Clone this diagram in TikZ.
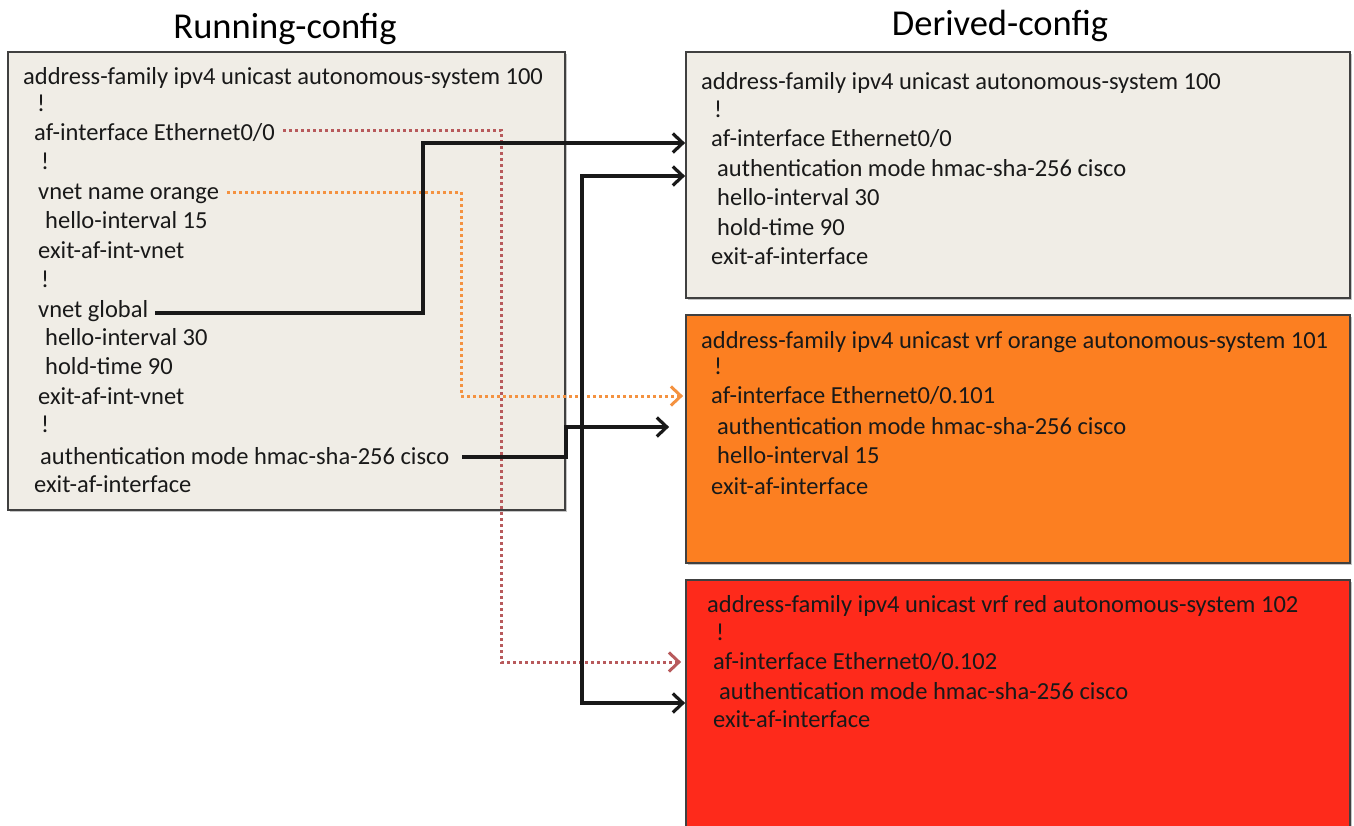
\documentclass[tikz,border=0pt]{standalone}
\usepackage{fontspec}
\setmainfont{Carlito}
\usepackage{tikz}
\usetikzlibrary{arrows.meta,shadows}

\definecolor{cfgbg}{HTML}{F0EDE6}
\definecolor{vrforange}{HTML}{FC7F21}
\definecolor{vrfred}{HTML}{FE2A1B}
\definecolor{redlink}{HTML}{B85A5C}
\definecolor{orangelink}{HTML}{F49240}

\begin{document}
\begin{tikzpicture}[x=1pt, y=-1pt, >={Straight Barb[length=10pt,width=19pt]},
  cfg box/.style={draw=black!75, line width=1.8pt,
    drop shadow={shadow xshift=1.5pt, shadow yshift=-1.5pt, fill=black!45}},
  cfg line/.style={anchor=west, inner sep=0pt, text height=15pt, text depth=0pt,
    text=black!90, font=\fontsize{24.5}{29}\selectfont},
  title/.style={font=\fontsize{36.5}{40}\selectfont},
  link/.style={->, line width=3.2pt, black!90},
  dot link/.style={->, line width=3pt, dash pattern=on 3pt off 3pt}]

\useasboundingbox (0,0) rectangle (1354,825);

\node[title] (runtitle) at (285,29) {Running-config};
\node[title] (dertitle) at (1000,26) {Derived-config};

% boxes
\node[cfg box, fill=cfgbg, minimum width=557pt, minimum height=458pt] (run) at (286.5,281) {};
\node[cfg box, fill=cfgbg, minimum width=664pt, minimum height=246pt] (dglobal) at (1018,175) {};
\node[cfg box, fill=vrforange, minimum width=664pt, minimum height=248pt] (dorange) at (1018,439) {};
\node[cfg box, fill=vrfred, minimum width=664pt, minimum height=255pt] (dred) at (1018,707.5) {};

% running-config
\node[cfg line] (r1) at (23,77) {address-family ipv4 unicast autonomous-system 100};
\node[cfg line] (r2) at (37,104) {!};
\node[cfg line] (raf) at (34,133) {af-interface Ethernet0/0};
\node[cfg line] (r4) at (41,162) {!};
\node[cfg line] (rorange) at (38,192) {vnet name orange};
\node[cfg line] (r6) at (45,221) {hello-interval 15};
\node[cfg line] (r7) at (38,251) {exit-af-int-vnet};
\node[cfg line] (r8) at (41,280) {!};
\node[cfg line] (rglobal) at (38,310) {vnet global};
\node[cfg line] (r10) at (45,338) {hello-interval 30};
\node[cfg line] (r11) at (45,367) {hold-time 90};
\node[cfg line] (r12) at (38,397) {exit-af-int-vnet};
\node[cfg line] (r13) at (41,425) {!};
\node[cfg line] (rauth) at (40,457) {authentication mode hmac-sha-256 cisco};
\node[cfg line] (r15) at (34,485) {exit-af-interface};

% derived-config, global
\node[cfg line] (g1) at (701,82) {address-family ipv4 unicast autonomous-system 100};
\node[cfg line] (g2) at (714,110) {!};
\node[cfg line] (gaf) at (711,139) {af-interface Ethernet0/0};
\node[cfg line] (gauth) at (717,169) {authentication mode hmac-sha-256 cisco};
\node[cfg line] (g5) at (717,198) {hello-interval 30};
\node[cfg line] (g6) at (717,228) {hold-time 90};
\node[cfg line] (g7) at (711,257) {exit-af-interface};

% derived-config, vrf orange
\node[cfg line] (o1) at (701,341) {address-family ipv4 unicast vrf orange autonomous-system 101};
\node[cfg line] (o2) at (714,367) {!};
\node[cfg line] (oaf) at (711,396) {af-interface Ethernet0/0.101};
\node[cfg line] (oauth) at (717,427) {authentication mode hmac-sha-256 cisco};
\node[cfg line] (o5) at (717,456) {hello-interval 15};
\node[cfg line] (o6) at (711,487) {exit-af-interface};

% derived-config, vrf red
\node[cfg line] (e1) at (707,605) {address-family ipv4 unicast vrf red autonomous-system 102};
\node[cfg line] (e2) at (716,633) {!};
\node[cfg line] (eaf) at (713,662) {af-interface Ethernet0/0.102};
\node[cfg line] (eauth) at (719,692) {authentication mode hmac-sha-256 cisco};
\node[cfg line] (e5) at (713,720) {exit-af-interface};

% vnet names
\draw[dot link, redlink] ([xshift=8pt,yshift=3pt]raf.east) -| (501,0 |- eaf.west) -- ([xshift=-4pt]dred.west |- eaf.west);
\draw[dot link, orangelink] ([xshift=8pt]rorange.east) -| (461,0 |- oaf.west) -- ([xshift=-2pt]dorange.west |- oaf.west);

% inherited settings
\draw[link] ([xshift=7pt,yshift=-3pt]rglobal.east) -| ([yshift=-4pt]423,0 |- gaf.west) -- ([yshift=-4pt]dglobal.west |- gaf.west);
\draw[link] ([xshift=13pt]rauth.east) -| (566,0 |- oauth.west) -- ([xshift=-16pt]dorange.west |- oauth.west);
\draw[link, <->] ([yshift=-7pt]dglobal.west |- gauth.west) -| ([yshift=-11pt]582,0 |- eauth.west) -- ([yshift=-11pt]dred.west |- eauth.west);
\end{tikzpicture}
\end{document}
